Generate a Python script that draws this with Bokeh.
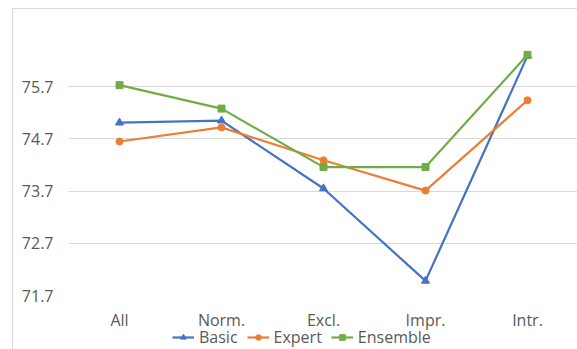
from bokeh.plotting import figure
from bokeh.models import FixedTicker, Legend, LegendItem, ColumnDataSource
from bokeh.layouts import column
from bokeh.embed import file_html
from bokeh.resources import INLINE

categories = ["All", "Norm.", "Excl.", "Impr.", "Intr."]
basic = [75.01, 75.05, 73.75, 71.98, 76.29]
expert = [74.65, 74.92, 74.29, 73.71, 75.44]
ensemble = [75.73, 75.28, 74.16, 74.16, 76.31]
y_ticks = [71.7, 72.7, 73.7, 74.7, 75.7]
series_names = ["Basic", "Expert", "Ensemble"]

FONT = "Open Sans"
GRID = "#d9d9d9"
TXT = "#595959"
COLORS = ["#4472C4", "#ED7D31", "#70AD47"]
MARKERS = ["triangle", "circle", "square"]
SIZES = [8, 7, 7]

src = ColumnDataSource(dict(x=categories, Basic=basic, Expert=expert, Ensemble=ensemble))

p = figure(width=565, height=296, x_range=categories, y_range=(71.7, 76.7),
           x_axis_location=None,
           output_backend="svg", toolbar_location=None,
           min_border_left=55, min_border_right=0, min_border_top=25, min_border_bottom=10)
p.outline_line_color = None
p.background_fill_color = "white"
p.border_fill_color = "white"

p.yaxis.ticker = FixedTicker(ticks=y_ticks)
p.ygrid.ticker = FixedTicker(ticks=y_ticks)
p.yaxis.formatter.use_scientific = False
p.ygrid.grid_line_color = GRID
p.ygrid.grid_line_width = 1
p.xgrid.grid_line_color = None
p.yaxis.axis_line_color = None
p.yaxis.major_tick_line_color = None
p.yaxis.minor_tick_line_color = None
p.yaxis.major_tick_in = 0
p.yaxis.major_tick_out = 0
p.yaxis.major_label_text_font = FONT
p.yaxis.major_label_text_font_size = "16px"
p.yaxis.major_label_text_color = TXT
p.yaxis.major_label_standoff = 15

for name, c, mk, sz in zip(series_names, COLORS, MARKERS, SIZES):
    p.line("x", name, source=src, line_color=c, line_width=2.2)
    p.scatter("x", name, source=src, marker=mk, size=sz, fill_color=c, line_color=c)

# category labels + legend strip beneath the chart
leg = figure(width=565, height=44, x_range=p.x_range, y_range=(0, 1),
             x_axis_location="above", y_axis_type=None,
             output_backend="svg", toolbar_location=None,
             min_border_left=0, min_border_right=0, min_border_top=0, min_border_bottom=0)
leg.outline_line_color = None
leg.xgrid.grid_line_color = None
leg.ygrid.grid_line_color = None
leg.xaxis.axis_line_color = None
leg.xaxis.major_tick_line_color = None
leg.xaxis.minor_tick_line_color = None
leg.xaxis.major_tick_in = 0
leg.xaxis.major_tick_out = 0
leg.xaxis.major_label_standoff = -6
leg.xaxis.major_label_text_font = FONT
leg.xaxis.major_label_text_font_size = "16px"
leg.xaxis.major_label_text_color = TXT

items = []
for name, c, mk, sz in zip(series_names, COLORS, MARKERS, SIZES):
    rl = leg.line("x", name, source=src, line_color=c, line_width=2.2)
    rm = leg.scatter("x", name, source=src, marker=mk, size=5, fill_color=c, line_color=c)
    items.append(LegendItem(label=name, renderers=[rl, rm]))

legend = Legend(items=items, orientation="horizontal", location=(104, 1),
                label_text_font=FONT, label_text_font_size="16px",
                label_text_color=TXT, border_line_color=None,
                background_fill_alpha=0, glyph_width=22, glyph_height=14,
                label_standoff=5, spacing=9, padding=0, margin=0)
leg.add_layout(legend)

layout = column(p, leg, spacing=0, margin=(8, 0, 0, 12),
                styles={"border-left": "1px solid #d9d9d9", "border-top": "1px solid #d9d9d9"})

open("out.html", "w").write(file_html(layout, INLINE))
